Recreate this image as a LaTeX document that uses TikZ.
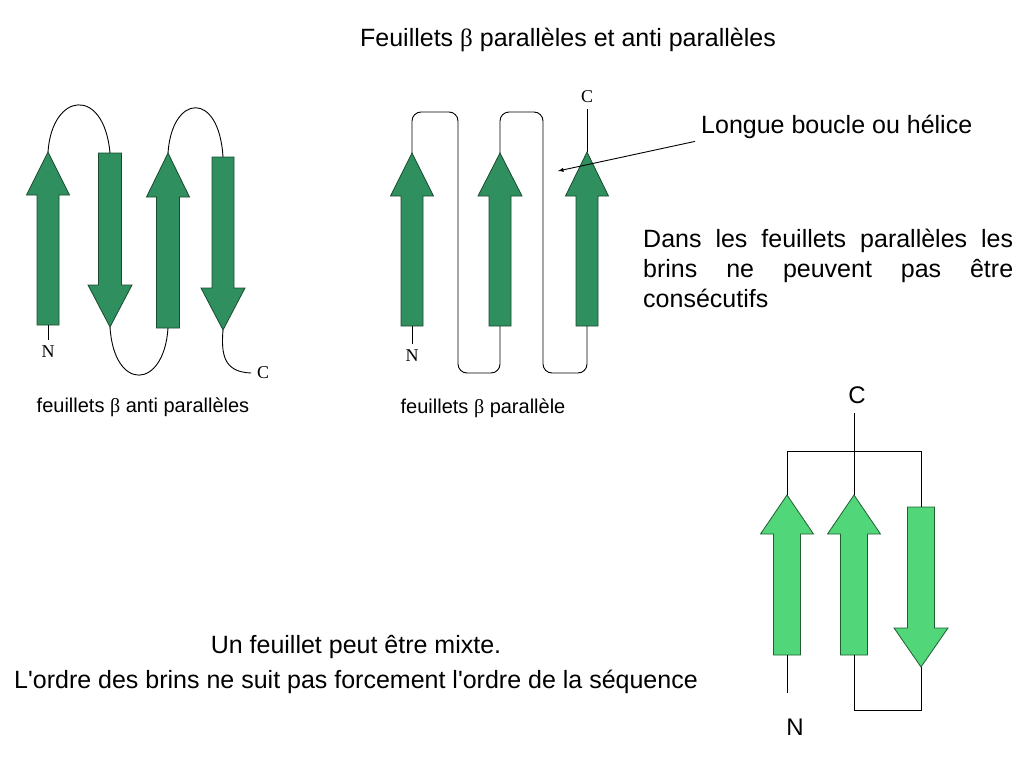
\documentclass[tikz,border=0pt]{standalone}
\usepackage{fontspec}
\setmainfont{Liberation Sans}
\newfontfamily\policeserif{Liberation Serif}
\usetikzlibrary{calc}
\definecolor{vertfonce}{RGB}{47,143,95}
\definecolor{vertclair}{RGB}{82,214,122}
\definecolor{bordfonce}{RGB}{25,75,45}
\definecolor{bordclair}{RGB}{30,95,50}
\tikzset{
  brinfonce/.style={fill=vertfonce, draw=bordfonce, line width=0.8pt},
  brinclair/.style={fill=vertclair, draw=bordclair, line width=0.8pt},
  boucle/.style={line width=0.9pt},
  texte/.style={inner sep=0pt, font=\fontsize{25}{30}\selectfont},
  legende/.style={inner sep=0pt, font=\fontsize{20}{24}\selectfont},
  lettre/.style={inner sep=0pt, outer sep=6pt, font=\policeserif\fontsize{18}{18}\selectfont},
  majuscule/.style={inner sep=0pt, outer sep=9pt, font=\fontsize{24}{24}\selectfont}
}
% brin : nom, x, y queue, y pointe, demi-largeur, demi-tete, longueur tete, style
\newcommand{\brin}[8]{%
  \pgfmathsetmacro{\brinsens}{sign(#4-#3)}%
  \pgfmathsetmacro{\brinbase}{#4-\brinsens*#7}%
  \draw[#8] (#2-#5,#3) -- (#2-#5,\brinbase) -- (#2-#6,\brinbase) -- (#2,#4)
    -- (#2+#6,\brinbase) -- (#2+#5,\brinbase) -- (#2+#5,#3) -- cycle;
  \coordinate (#1-queue) at (#2,#3);
  \coordinate (#1-pointe) at (#2,#4);
}
\begin{document}
\begin{tikzpicture}[x=1pt, y=-1pt]
\useasboundingbox (0,0) rectangle (1024,768);
\node[texte, anchor=base] (titre) at (568,47) {Feuillets {\policeserif β} parallèles et anti parallèles};

% anti paralleles
\brin{a1}{48}{325}{152}{11}{21.5}{43}{brinfonce}
\brin{a2}{110}{153}{327}{11.5}{22}{42}{brinfonce}
\brin{a3}{168}{328}{153}{11.5}{21.5}{44}{brinfonce}
\brin{a4}{223}{157}{330}{11}{22}{42}{brinfonce}
\draw[boucle] (a1-pointe) .. controls (52,92) and (104,86) .. (a2-queue);
\draw[boucle] (a2-pointe) .. controls (114,392) and (164,390) .. (a3-queue);
\draw[boucle] (a3-pointe) .. controls (172,94) and (219,90) .. (a4-queue);
\node[lettre] (Ng) at (48,352) {N};
\node[lettre] (Cg) at (263,373) {C};
\draw[boucle] (a1-queue) -- (Ng);
\draw[boucle] (a4-pointe) .. controls (221,355) and (224,372) .. (Cg.west);
\node[legende, anchor=base] (antipar) at (143,412) {feuillets {\policeserif β} anti parallèles};

% paralleles
\brin{p1}{412}{326}{153}{11}{21.5}{43}{brinfonce}
\brin{p2}{500}{326}{153}{11}{22}{43}{brinfonce}
\brin{p3}{587}{326}{152}{11}{21.5}{44}{brinfonce}
\draw[boucle, rounded corners=9pt] (p1-pointe) -- (412,112) -- (458,112) -- (458,373) -- (500,373) -- (p2-queue);
\draw[boucle, rounded corners=9pt] (p2-pointe) -- (500,112) -- (543,112) -- (543,373) -- (587,373) -- (p3-queue);
\node[lettre] (Nm) at (412,356) {N};
\node[lettre] (Cm) at (587,97) {C};
\draw[boucle] (p1-queue) -- (Nm);
\draw[boucle] (p3-pointe) -- (Cm);
\node[legende, anchor=base] (par) at (483,413) {feuillets {\policeserif β} parallèle};

\node[texte, anchor=base west] (helice) at (701,133) {Longue boucle ou hélice};
\coordinate (boucle) at (558,171);
\draw[-latex, line width=0.9pt] ($(helice.south west)+(-6,3)$) -- (boucle);
\node[texte, anchor=base west, text width=370pt, align=justify] (regle) at (643,247)
  {\tolerance=10000 Dans les feuillets parallèles les\linebreak brins ne peuvent pas être\linebreak \mbox{consécutifs}};

% mixte
\brin{m1}{787}{655}{495}{13.5}{26.5}{39}{brinclair}
\brin{m2}{854}{655}{495}{13.5}{26.5}{39}{brinclair}
\brin{m3}{921}{507}{667}{13.5}{27}{39}{brinclair}
\node[majuscule] (Cd) at (857,395) {C};
\node[majuscule] (Nd) at (795,727) {N};
\coordinate (nd) at (787,693);
\draw[boucle] (m2-pointe) -- (m2-pointe |- Cd.south);
\draw[boucle] (m1-pointe) -- ++(0,-44) -| (m3-queue);
\draw[boucle] (m2-queue) -- ++(0,55) -| (m3-pointe);
\draw[boucle] (m1-queue) -- (nd);
\node[texte, align=center, anchor=base, font=\fontsize{25}{35}\selectfont] (mixte) at (356,688)
  {Un feuillet peut être mixte.\\L\textquotesingle ordre des brins ne suit pas forcement l\textquotesingle ordre de la séquence};
\end{tikzpicture}
\end{document}
